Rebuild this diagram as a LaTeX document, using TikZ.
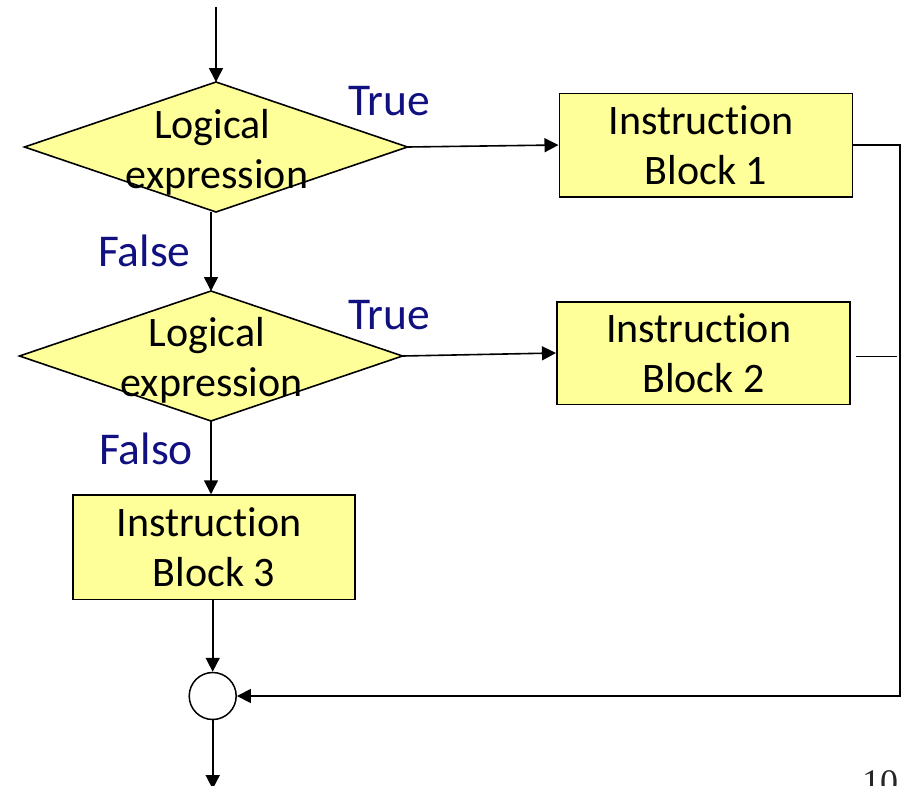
\documentclass[tikz,border=0pt]{standalone}
\usepackage{fontspec}
\setmainfont{Carlito}[Ligatures=NoCommon]
\newfontfamily\pagefont{Liberation Serif}
\usetikzlibrary{shapes.geometric,arrows.meta}
\definecolor{boxfill}{RGB}{255,255,153}
\definecolor{labelblue}{RGB}{16,16,128}
\tikzset{
  decision/.style={shape=diamond, draw=black, line width=1.6pt, fill=boxfill,
    minimum width=383pt, minimum height=130pt, inner sep=0pt, outer sep=0pt},
  dtext/.style={align=center, inner sep=0pt, font=\fontsize{42}{50}\selectfont},
  block/.style={draw=black, line width=1.6pt, fill=boxfill, align=center,
    inner sep=0pt, font=\fontsize{42}{50.5}\selectfont},
  junction/.style={circle, draw=black, line width=1.5pt, fill=white,
    minimum size=47pt, inner sep=0pt},
  flow/.style={line width=1.6pt, -{Triangle[length=14pt,width=14pt]}},
  plain/.style={line width=1.6pt},
  branch/.style={text=labelblue, inner sep=0pt, anchor=base west,
    font=\fontsize{45.5}{54}\selectfont},
}
\begin{document}
\begin{tikzpicture}[x=1pt,y=-1pt]
\useasboundingbox (0,0) rectangle (904,785);

% decisions
\node[decision] (d1) at (216,147) {};
\node[dtext] (d1t) at (217,152.5) {Logical\hspace*{0.226em}\\expression};
\node[decision] (d2) at (211,356) {};
\node[dtext] (d2t) at (211.7,360) {Logical\hspace*{0.226em}\\expression};

% instruction blocks
\node[block, minimum width=293pt, minimum height=103.4pt] (b1) at (705.8,145) {Instruction\hspace*{0.226em}\\Block 1};
\node[block, minimum width=293.3pt, minimum height=102.6pt] (b2) at (703.4,353) {Instruction\hspace*{0.226em}\\Block 2};
\node[block, minimum width=282.3pt, minimum height=104.3pt] (b3) at (213.9,547.2) {Instruction\hspace*{0.226em}\\Block 3};

% joining point
\node[junction] (j) at (212.7,696) {};

% free ends
\coordinate (in) at (216,7);
\coordinate (out) at (212.7,789);
\coordinate (rc) at (900,696);
\coordinate (stub) at (897,356.5);

% connectors
\draw[flow] (in) -- (d1.north);
\draw[flow] (d1.east) -- (b1.west);
\draw[flow] (d2.north |- d1.south) -- (d2.north);
\draw[flow] (d2.east) -- (b2.west);
\draw[flow] (d2.south) -- (d2.south |- b3.north);
\draw[flow] (j.north |- b3.south) -- (j.north);
\draw[flow] (b1.east) -| (rc) -- (j.east);
\draw[plain] ([xshift=5pt]b2.east |- stub) -- (stub);
\draw[flow] (j.south) -- (out);

% branch labels
\node[branch] (t1) at (348,115) {True};
\node[branch] (f1) at (98,266.7) {False};
\node[branch] (t2) at (348,329) {True};
\node[branch] (f2) at (99,464) {Falso};

% page number
\node[anchor=base west, inner sep=0pt, text=black!85,
  font=\pagefont\fontsize{36}{40}\selectfont] (pg) at (862,794) {10};
\end{tikzpicture}
\end{document}
